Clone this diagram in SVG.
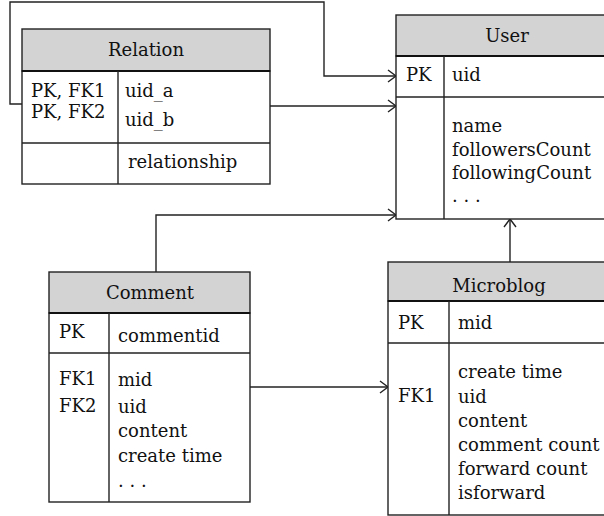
<svg xmlns="http://www.w3.org/2000/svg" width="604" height="516" viewBox="0 0 604 516">
<style>
.box{fill:#fff;stroke:#222;stroke-width:1.4}
.hdr{fill:#d3d3d3;stroke:#222;stroke-width:1.4}
.sep{stroke:#111;stroke-width:2}
.ln{stroke:#222;stroke-width:1.4;fill:none}
text{font-family:"DejaVu Serif","Liberation Serif",serif;font-size:18px;fill:#111}
.c{text-anchor:middle}
.con{stroke:#222;stroke-width:1.4;fill:none;marker-end:url(#arr)}
</style>
<defs>
<marker id="arr" markerUnits="userSpaceOnUse" markerWidth="12" markerHeight="14" refX="9" refY="7" orient="auto">
<path d="M1,1 L9,7 L1,13" fill="none" stroke="#222" stroke-width="1.4"/>
</marker>
</defs>
<g id="connectors">
<path class="con" d="M22,104 H10 V2 H324 V76 H396"/>
<path class="con" d="M270,106 H396"/>
<path class="con" d="M156,272 V215 H396"/>
<path class="con" d="M250,387 H388"/>
<path class="con" d="M510,262 V219"/>
</g>
<g id="relation">
<rect class="hdr" x="22" y="29" width="248" height="42"/>
<rect class="box" x="22" y="71" width="248" height="113"/>
<line class="sep" x1="22" y1="71" x2="270" y2="71"/>
<line class="ln" x1="118" y1="71" x2="118" y2="184"/>
<line class="ln" x1="22" y1="143" x2="270" y2="143"/>
<text class="c" x="146" y="56">Relation</text>
<text x="31" y="97">PK, FK1</text>
<text x="31" y="118">PK, FK2</text>
<text x="125" y="97">uid_a</text>
<text x="125" y="126">uid_b</text>
<text x="128" y="168">relationship</text>
</g>
<g id="user">
<rect class="hdr" x="396" y="15" width="222" height="41"/>
<rect class="box" x="396" y="56" width="222" height="163"/>
<line class="sep" x1="396" y1="56" x2="618" y2="56"/>
<line class="ln" x1="444" y1="56" x2="444" y2="219"/>
<line class="ln" x1="396" y1="97" x2="618" y2="97"/>
<text class="c" x="507" y="42">User</text>
<text x="406" y="81">PK</text>
<text x="452" y="81">uid</text>
<text x="452" y="132">name</text>
<text x="452" y="156">followersCount</text>
<text x="452" y="179">followingCount</text>
<text x="452" y="202">. . .</text>
</g>
<g id="comment">
<rect class="hdr" x="49" y="272" width="201" height="41"/>
<rect class="box" x="49" y="313" width="201" height="189"/>
<line class="sep" x1="49" y1="313" x2="250" y2="313"/>
<line class="ln" x1="109" y1="313" x2="109" y2="502"/>
<line class="ln" x1="49" y1="353" x2="250" y2="353"/>
<text class="c" x="150" y="299">Comment</text>
<text x="59" y="338">PK</text>
<text x="118" y="342">commentid</text>
<text x="59" y="385">FK1</text>
<text x="59" y="412">FK2</text>
<text x="118" y="386">mid</text>
<text x="118" y="413">uid</text>
<text x="118" y="437">content</text>
<text x="118" y="462">create time</text>
<text x="118" y="487">. . .</text>
</g>
<g id="microblog">
<rect class="hdr" x="388" y="262" width="222" height="39"/>
<rect class="box" x="388" y="301" width="222" height="214"/>
<line class="sep" x1="388" y1="301" x2="610" y2="301"/>
<line class="ln" x1="449" y1="301" x2="449" y2="515"/>
<line class="ln" x1="388" y1="343" x2="610" y2="343"/>
<text class="c" x="499" y="292">Microblog</text>
<text x="398" y="329">PK</text>
<text x="458" y="329">mid</text>
<text x="398" y="402">FK1</text>
<text x="458" y="378">create time</text>
<text x="458" y="403">uid</text>
<text x="458" y="427">content</text>
<text x="458" y="451">comment count</text>
<text x="458" y="475">forward count</text>
<text x="458" y="499">isforward</text>
</g>
</svg>
